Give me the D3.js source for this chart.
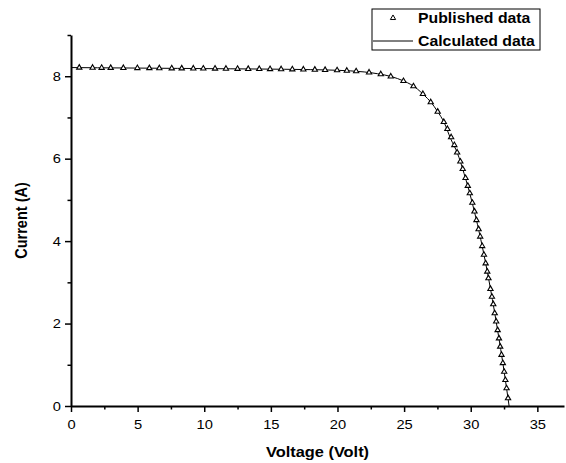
<!DOCTYPE html>
<html>
<head>
<meta charset="utf-8">
<script src="https://cdn.jsdelivr.net/npm/d3@7"></script>
<style>
  body { margin: 0; background: #fff; }
  text { font-family: Arial, "Liberation Sans", sans-serif; }
</style>
</head>
<body>
<div id="chart"></div>
<script>
const pubVoltage = [
  0.62, 1.62, 2.30, 2.98, 3.93, 4.98, 5.88, 6.63, 7.56, 8.31, 9.18, 9.93,
  10.81, 11.63, 12.50, 13.30, 14.13, 14.94, 15.77, 16.61, 17.44, 18.30, 19.07,
  19.97, 20.70, 21.40, 22.37, 23.25, 24.00, 24.95, 25.70, 26.41, 27.00, 27.52,
  27.98, 28.25, 28.53, 28.77, 28.98, 29.22, 29.40, 29.61, 29.78, 29.93, 30.12,
  30.28, 30.43, 30.59, 30.71, 30.86, 30.99, 31.12, 31.24, 31.33, 31.48, 31.59,
  31.69, 31.80, 31.91, 32.02, 32.12, 32.21, 32.31, 32.41, 32.51, 32.60, 32.69,
  32.80
];
const pubCurrent = [
  8.208, 8.206, 8.204, 8.202, 8.200, 8.198, 8.196, 8.194, 8.191, 8.190, 8.188,
  8.186, 8.184, 8.181, 8.179, 8.177, 8.175, 8.173, 8.170, 8.167, 8.163, 8.159,
  8.153, 8.144, 8.134, 8.120, 8.091, 8.049, 7.994, 7.883, 7.756, 7.57, 7.37,
  7.14, 6.89, 6.72, 6.52, 6.33, 6.15, 5.93, 5.75, 5.53, 5.34, 5.16, 4.93, 4.72,
  4.51, 4.29, 4.11, 3.88, 3.67, 3.46, 3.26, 3.10, 2.84, 2.65, 2.47, 2.25, 2.05,
  1.84, 1.64, 1.44, 1.24, 1.04, 0.83, 0.63, 0.43, 0.19
];

// calculated model curve
const calcVoltage = [
  0, 2, 4, 6, 8, 10, 12, 14, 16, 18, 20, 21, 22, 23, 24, 25, 25.5, 26, 26.5,
  27, 27.5, 28, 28.5, 29, 29.5, 30, 30.5, 31, 31.5, 32, 32.5, 32.88
];
const calcCurrent = [
  8.210, 8.205, 8.200, 8.195, 8.190, 8.185, 8.180, 8.175, 8.169, 8.160, 8.144,
  8.129, 8.104, 8.061, 7.995, 7.880, 7.80, 7.689, 7.54, 7.375, 7.15, 6.880,
  6.48, 6.135, 5.64, 5.07, 4.41, 3.66, 2.81, 1.87, 0.85, 0
];

const xMajor = [0, 5, 10, 15, 20, 25, 30, 35];
const xMinor = [2.5, 7.5, 12.5, 17.5, 22.5, 27.5, 32.5];
const yMajor = [0, 2, 4, 6, 8];
const yMinor = [1, 3, 5, 7, 9];

const legendLabels = ['Published data', 'Calculated data'];

const width = 566;
const height = 463;
const margin = { top: 35, right: 2, bottom: 57, left: 71 };
const stretch = 1.13; // text in the original figure is a bit wider than Arial

const svg = d3.select('#chart')
  .append('svg')
  .attr('width', width)
  .attr('height', height);

const x = d3.scaleLinear()
  .domain([0, 37])
  .range([margin.left, width - margin.right]);
const y = d3.scaleLinear()
  .domain([0, 9])
  .range([height - margin.bottom, margin.top]);

// minor ticks first, majors on top
svg.append('g')
  .attr('transform', `translate(0, ${y(0)})`)
  .call(d3.axisBottom(x).tickValues(xMinor).tickSize(3.5).tickFormat(''))
  .call((g) => g.select('.domain').remove())
  .call((g) => g.selectAll('line').attr('stroke-width', 1.5));
svg.append('g')
  .attr('transform', `translate(${x(0)}, 0)`)
  .call(d3.axisLeft(y).tickValues(yMinor).tickSize(3.5).tickFormat(''))
  .call((g) => g.select('.domain').remove())
  .call((g) => g.selectAll('line').attr('stroke-width', 1.5));

const xAxis = svg.append('g')
  .attr('transform', `translate(0, ${y(0)})`)
  .call(d3.axisBottom(x).tickValues(xMajor).tickSize(6).tickSizeOuter(0).tickPadding(8));
const yAxis = svg.append('g')
  .attr('transform', `translate(${x(0)}, 0)`)
  .call(d3.axisLeft(y).tickValues(yMajor).tickSize(6).tickSizeOuter(0).tickPadding(3));

[xAxis, yAxis].forEach((g) => {
  g.select('.domain').attr('stroke-width', 2);
  g.selectAll('.tick line').attr('stroke-width', 1.5);
  g.selectAll('.tick text')
    .attr('font-size', 13)
    .attr('font-family', 'Arial, "Liberation Sans", sans-serif')
    .attr('fill', '#000')
    .attr('transform', `scale(${stretch}, 1)`);
});

// axis titles
svg.append('text')
  .attr('transform', `translate(${(x.range()[0] + x.range()[1]) / 2}, 457) scale(${stretch}, 1)`)
  .attr('text-anchor', 'middle')
  .attr('font-size', 14.5)
  .attr('font-weight', 'bold')
  .text('Voltage (Volt)');

svg.append('text')
  .attr('transform', `translate(27, ${(y(0) + y(9)) / 2}) scale(${stretch}, 1) rotate(-90)`)
  .attr('text-anchor', 'middle')
  .attr('font-size', 14.5)
  .attr('font-weight', 'bold')
  .text('Current (A)');

// calculated line
const calcData = calcVoltage.map((v, i) => ({ v, c: calcCurrent[i] }));
const line = d3.line()
  .x((d) => x(d.v))
  .y((d) => y(d.c))
  .curve(d3.curveMonotoneX);

svg.append('path')
  .datum(calcData)
  .attr('fill', 'none')
  .attr('stroke', '#000')
  .attr('stroke-width', 1)
  .attr('d', line);

// published markers
const pubData = pubVoltage.map((v, i) => ({ v, c: pubCurrent[i] }));
const tri = d3.symbol().type(d3.symbolTriangle).size(12);

svg.append('g')
  .selectAll('path')
  .data(pubData)
  .join('path')
  .attr('transform', (d) => `translate(${x(d.v)}, ${y(d.c)})`)
  .attr('d', tri)
  .attr('fill', '#fff')
  .attr('stroke', '#000')
  .attr('stroke-width', 1.1);

// legend
const legend = svg.append('g').attr('transform', 'translate(372, 9)');
legend.append('rect')
  .attr('width', 168)
  .attr('height', 41)
  .attr('fill', '#fff')
  .attr('stroke', '#000')
  .attr('stroke-width', 1);

legend.append('path')
  .attr('transform', 'translate(21, 9)')
  .attr('d', tri)
  .attr('fill', '#fff')
  .attr('stroke', '#000');

legend.append('line')
  .attr('x1', 1)
  .attr('x2', 41)
  .attr('y1', 32)
  .attr('y2', 32)
  .attr('stroke', '#000')
  .attr('stroke-width', 1);

legend.selectAll('text.lab')
  .data(legendLabels)
  .join('text')
  .attr('class', 'lab')
  .attr('transform', (d, i) => `translate(46, ${14 + i * 23}) scale(${stretch}, 1)`)
  .attr('font-size', 14)
  .attr('font-weight', 'bold')
  .text((d) => d);
</script>
</body>
</html>
